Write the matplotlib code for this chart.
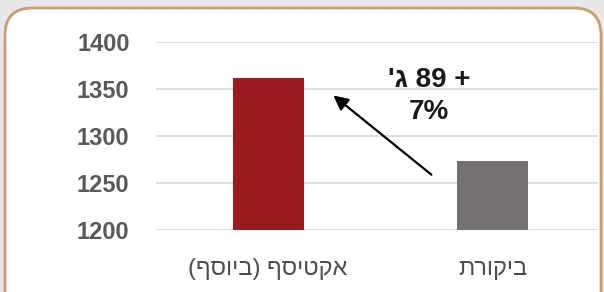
import matplotlib
matplotlib.use("Agg")
import matplotlib.pyplot as plt
from matplotlib.patches import FancyBboxPatch

plt.rcParams['font.family'] = ['Liberation Sans', 'DejaVu Sans']

# data (logical Hebrew order, left-to-right bar order as in the picture)
categories = ['אקטיסף (ביוסף)', 'ביקורת']
values = [1362, 1273]
bar_colors = ['#9c1a22', '#757171']
y_ticks = [1200, 1250, 1300, 1350, 1400]
note = "+ 89 ג'\n7%"


def visual(s):
    # matplotlib has no bidi support: reverse to visual order, keep number runs, mirror brackets
    mirror = {'(': ')', ')': '('}
    out = []
    for line in s.split('\n'):
        r = ''.join(mirror.get(c, c) for c in reversed(line))
        fixed, run = '', ''
        for c in r:
            if c.isdigit() or c == '%':
                run += c
            else:
                fixed += run[::-1] + c
                run = ''
        fixed += run[::-1]
        out.append(fixed)
    return '\n'.join(out)


fig = plt.figure(figsize=(6.04, 2.92), dpi=100)
fig.patch.set_facecolor('#e7e8e9')

frame = FancyBboxPatch((5 / 604, -30 / 292), 596 / 604, 314 / 292,
                       boxstyle='round,pad=0,rounding_size=0.045',
                       transform=fig.transFigure, facecolor='white',
                       edgecolor='#c99d72', linewidth=2, mutation_aspect=604 / 292,
                       zorder=-5)
fig.patches.append(frame)

ax = fig.add_axes([156 / 604, 62 / 292, 442 / 604, 188 / 292])
ax.set_facecolor('none')

x = range(len(categories))
ax.bar(x, values, width=0.315, color=bar_colors, zorder=3)

ax.set_ylim(1200, 1400)
ax.set_xlim(-0.5, 1.47)
ax.set_yticks(y_ticks)
ax.set_yticklabels([str(v) for v in y_ticks], fontsize=17, fontweight='bold', color='#595959')
ax.set_xticks(list(x))
ax.set_xticklabels([visual(c) for c in categories], fontsize=17, color='#4d4d4d')
ax.tick_params(axis='y', length=0, pad=19)
ax.tick_params(axis='x', length=0, pad=20)
ax.grid(axis='y', color='#d9d9d9', linewidth=1.2, zorder=0)
for s in ax.spines.values():
    s.set_visible(False)

ax.annotate('', xy=(0.281, 1345), xytext=(0.737, 1257),
            arrowprops=dict(arrowstyle='-|>', color='black', lw=1.6,
                            mutation_scale=22), zorder=4)
ax.text(0.716, 1343, visual(note), ha='center', va='center', fontsize=20,
        fontweight='bold', color='#1a1a1a', linespacing=1.3, zorder=5)

fig.savefig('out.png', dpi=100, facecolor=fig.get_facecolor())
